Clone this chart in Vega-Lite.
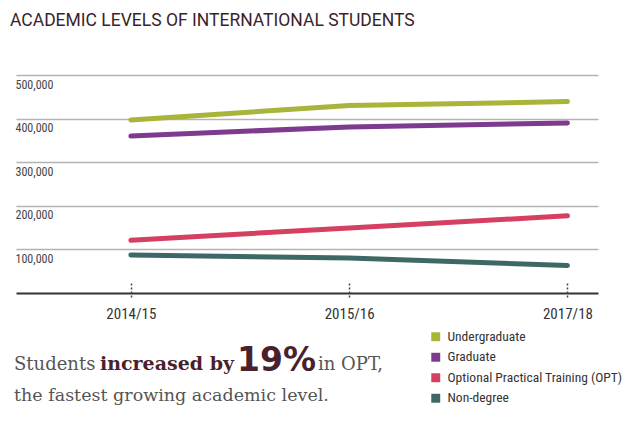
{
  "$schema": "https://vega.github.io/schema/vega-lite/v6.json",
  "width": 582,
  "height": 218,
  "autosize": {"type": "none"},
  "padding": {"left": 16, "top": 75, "right": 35, "bottom": 134},
  "background": "white",
  "title": {
    "text": "ACADEMIC LEVELS OF INTERNATIONAL STUDENTS",
    "anchor": "start",
    "frame": "group",
    "dx": -6,
    "offset": 46,
    "font": "Roboto, sans-serif",
    "fontSize": 17.5,
    "fontWeight": "normal",
    "color": "#3b1f2b"
  },
  "layer": [
    {
      "data": {
        "values": [
          {"year": "2014/15", "level": "Undergraduate", "students": 397000},
          {"year": "2015/16", "level": "Undergraduate", "students": 430000},
          {"year": "2017/18", "level": "Undergraduate", "students": 439000},
          {"year": "2014/15", "level": "Graduate", "students": 360000},
          {"year": "2015/16", "level": "Graduate", "students": 381000},
          {"year": "2017/18", "level": "Graduate", "students": 390000},
          {"year": "2014/15", "level": "Optional Practical Training (OPT)", "students": 121000},
          {"year": "2015/16", "level": "Optional Practical Training (OPT)", "students": 149000},
          {"year": "2017/18", "level": "Optional Practical Training (OPT)", "students": 177000},
          {"year": "2014/15", "level": "Non-degree", "students": 87000},
          {"year": "2015/16", "level": "Non-degree", "students": 80000},
          {"year": "2017/18", "level": "Non-degree", "students": 63000}
        ]
      },
      "mark": {"type": "line", "strokeWidth": 5, "strokeCap": "round", "strokeJoin": "round"},
      "encoding": {
        "x": {
          "field": "year",
          "type": "ordinal",
          "scale": {"type": "point", "padding": 0.333, "align": 0.79},
          "axis": {
            "title": null,
            "domain": false,
            "offset": -10,
            "tickSize": 16,
            "tickDash": [2, 2],
            "tickWidth": 1.5,
            "tickColor": "#444",
            "labelPadding": 7,
            "labelBaseline": "top",
            "labelAngle": 0,
            "labelFont": "Roboto Condensed, DejaVu Sans Condensed, Liberation Sans Narrow, Roboto, sans-serif",
            "labelFontSize": 15,
            "labelColor": "#333",
            "grid": false
          }
        },
        "y": {
          "field": "students",
          "type": "quantitative",
          "scale": {"domain": [0, 500000], "nice": false},
          "axis": {
            "title": null,
            "domain": false,
            "ticks": false,
            "tickSize": 0,
            "values": [0, 100000, 200000, 300000, 400000, 500000],
            "labelExpr": "datum.value === 0 ? '' : datum.label",
            "labelAlign": "left",
            "labelBaseline": "top",
            "labelPadding": 1,
            "labelOffset": 4,
            "labelFont": "Roboto Condensed, DejaVu Sans Condensed, Liberation Sans Narrow, Roboto, sans-serif",
            "labelFontSize": 12,
            "labelColor": "#444",
            "grid": true,
            "gridColor": {"condition": {"test": "datum.value === 0", "value": "#333333"}, "value": "#b3b3b3"},
            "gridWidth": {"condition": {"test": "datum.value === 0", "value": 2}, "value": 1.5}
          }
        },
        "color": {
          "field": "level",
          "type": "nominal",
          "scale": {
            "domain": ["Undergraduate", "Graduate", "Optional Practical Training (OPT)", "Non-degree"],
            "range": ["#a9b43a", "#7d3a8e", "#d43f62", "#3e6866"]
          },
          "legend": {
            "title": null,
            "orient": "none",
            "legendX": 413,
            "legendY": 255,
            "symbolType": "square",
            "symbolSize": 80,
            "symbolStrokeWidth": 0,
            "labelFont": "Roboto Condensed, DejaVu Sans Condensed, Liberation Sans Narrow, Roboto, sans-serif",
            "labelFontSize": 13.5,
            "labelColor": "#333",
            "labelLimit": 400,
            "rowPadding": 5.5,
            "labelOffset": 5,
            "encode": {
              "symbols": {"update": {"fill": {"scale": "color", "field": "value"}, "strokeWidth": {"value": 0}}}
            }
          }
        }
      }
    },
    {
      "data": {"values": [{}]},
      "mark": {"type": "text", "text": "Students", "font": "DejaVu Serif", "fontSize": 18, "color": "#555", "align": "left", "baseline": "alphabetic"},
      "encoding": {"x": {"value": -2}, "y": {"value": 295}}
    },
    {
      "data": {"values": [{}]},
      "mark": {"type": "text", "text": "increased by", "font": "DejaVu Serif", "fontSize": 19, "fontWeight": "bold", "color": "#4a1f2e", "align": "left", "baseline": "alphabetic"},
      "encoding": {"x": {"value": 84}, "y": {"value": 295}}
    },
    {
      "data": {"values": [{}]},
      "mark": {"type": "text", "text": "19%", "font": "DejaVu Sans", "fontSize": 33, "fontWeight": "bold", "color": "#4a1f2e", "align": "left", "baseline": "alphabetic"},
      "encoding": {"x": {"value": 221}, "y": {"value": 296}}
    },
    {
      "data": {"values": [{}]},
      "mark": {"type": "text", "text": "in OPT,", "font": "DejaVu Serif", "fontSize": 18, "color": "#555", "align": "left", "baseline": "alphabetic"},
      "encoding": {"x": {"value": 302}, "y": {"value": 295}}
    },
    {
      "data": {"values": [{}]},
      "mark": {"type": "text", "text": "the fastest growing academic level.", "font": "DejaVu Serif", "fontSize": 17.5, "color": "#555", "align": "left", "baseline": "alphabetic"},
      "encoding": {"x": {"value": -2}, "y": {"value": 326}}
    }
  ],
  "config": {"view": {"stroke": null}}
}
